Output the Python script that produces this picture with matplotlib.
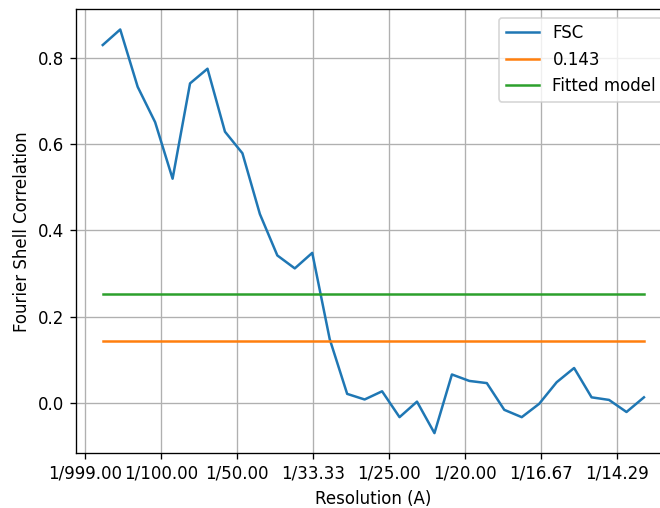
import numpy as np
import matplotlib
matplotlib.use("Agg")
import matplotlib.pyplot as plt

box_size = 64
pixel_size = 6.8
shells = np.arange(1, 33)
fsc = [0.830, 0.866, 0.733, 0.651, 0.520, 0.741, 0.775, 0.629, 0.579, 0.438,
       0.342, 0.312, 0.348, 0.148, 0.021, 0.008, 0.027, -0.033, 0.003, -0.070,
       0.066, 0.051, 0.046, -0.016, -0.033, -0.002, 0.048, 0.081, 0.013, 0.007,
       -0.021, 0.013]
threshold = 0.143
fitted = 0.253
tick_freqs = [0.0, 0.01, 0.02, 0.03, 0.04, 0.05, 0.06, 0.07]
tick_labels = ["1/999.00", "1/100.00", "1/50.00", "1/33.33", "1/25.00",
               "1/20.00", "1/16.67", "1/14.29"]

freq = shells / (box_size * pixel_size)

DPI = 120
fig = plt.figure(figsize=(660 / DPI, 508 / DPI), dpi=DPI)
ax = fig.add_axes([75.7 / 660, 54.7 / 508, (671 - 75.7) / 660, (453.3 - 9.3) / 508])
ax.plot(freq, fsc, label="FSC")
ax.plot(freq, [threshold] * len(freq), label="0.143")
ax.plot(freq, [fitted] * len(freq), label="Fitted model")
ax.set_xticks(tick_freqs)
ax.set_xticklabels(tick_labels)
ax.set_xlabel("Resolution (A)")
ax.set_ylabel("Fourier Shell Correlation")
ax.grid(True)
ax.legend(loc="upper right")
fig.savefig("out.png", dpi=DPI)
